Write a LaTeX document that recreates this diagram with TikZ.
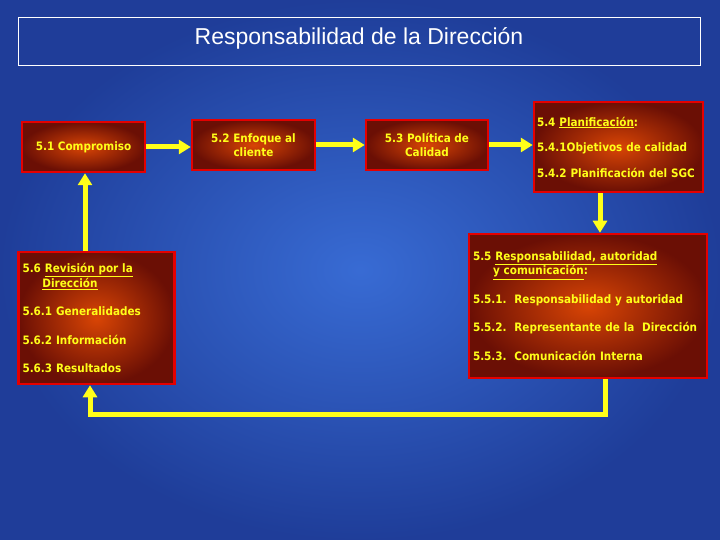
\documentclass[tikz,border=0pt]{standalone}
\usepackage{fontspec}
\setmainfont{Liberation Sans}
\newfontfamily\boxfont{DejaVu Sans Condensed Bold}
\usetikzlibrary{arrows.meta}
\definecolor{bgin}{rgb}{0.22,0.42,0.83}
\definecolor{bgout}{rgb}{0.12,0.24,0.60}
\definecolor{boxin}{rgb}{0.85,0.27,0.02}
\definecolor{boxout}{rgb}{0.42,0.06,0.02}
\definecolor{ylw}{rgb}{1,1,0.1}
\tikzset{
 rbox/.style={draw=red!90!black, line width=2.5pt, inner color=boxin, outer color=boxout,
   font=\boxfont\fontsize{11.6}{13.5}\selectfont, text=ylw, inner sep=6pt},
 yarr/.style={draw=ylw, line width=5pt, -{Triangle[length=12pt,width=14pt]}},
 yline/.style={draw=ylw, line width=5pt}
}
\begin{document}
\begin{tikzpicture}[x=1pt,y=-1pt]
\useasboundingbox (0,0) rectangle (720,540);
\shade[inner color=bgin, outer color=bgout] (0,0) rectangle (720,540);
\node[draw=white, line width=1.2pt, minimum width=682pt, minimum height=48pt, anchor=north west] (title) at (18,17) {};
\node[text=white, font=\fontsize{23}{27}\selectfont] (tt) at (359,38) {Responsabilidad de la Dirección};

\node[rbox, minimum width=123pt, minimum height=50pt, align=center] (b1) at (83.5,147) {5.1 Compromiso};
\node[rbox, minimum width=123pt, minimum height=50pt, align=center] (b2) at (253.5,145) {5.2 Enfoque al\\cliente};
\node[rbox, minimum width=122pt, minimum height=50pt, align=center] (b3) at (427,145) {5.3 Política de\\Calidad};
\node[rbox, text width=163pt, minimum height=90pt, align=left, inner sep=3pt] (b4) at (618.5,147)
 {5.4 \underline{Planificación}:\\[12pt]5.4.1Objetivos de calidad\\[12pt]5.4.2 Planificación del SGC};
\node[rbox, text width=230pt, minimum height=144pt, align=left, inner sep=4pt] (b5) at (588,306)
 {5.5 \underline{Responsabilidad, autoridad}\\\hspace*{20pt}\underline{y comunicación}:\\[15pt]
 5.5.1.\ \ Responsabilidad y autoridad\\[15pt]5.5.2.\ \ Representante de la\ \ Dirección\\[15pt]5.5.3.\ \ Comunicación Interna};
\node[rbox, text width=148pt, minimum height=132pt, align=left, inner sep=4pt] (b6) at (96.5,318)
 {5.6 \underline{Revisión por la}\\\hspace*{20pt}\underline{Dirección}\\[15pt]5.6.1 Generalidades\\[15pt]5.6.2 Información\\[15pt]5.6.3 Resultados};

\draw[yarr] (b1.east) -- (b2.west |- b1.east);
\draw[yarr] (b2.east) -- (b3.west);
\draw[yarr] (b3.east) -- (b4.west |- b3.east);
\draw[yarr] (b4.south -| 600,0) -- (b5.north -| 600,0);
\draw[yarr] (b6.north -| 85,0) -- (b1.south -| 85,0);
\coordinate (c1) at (605,414);
\coordinate (c2) at (90,414);
\draw[yline] (b5.south -| c1) -- (c1) -- (c2);
\draw[yarr] (c2) ++(0,2.5) -- (b6.south -| c2);
\end{tikzpicture}
\end{document}
